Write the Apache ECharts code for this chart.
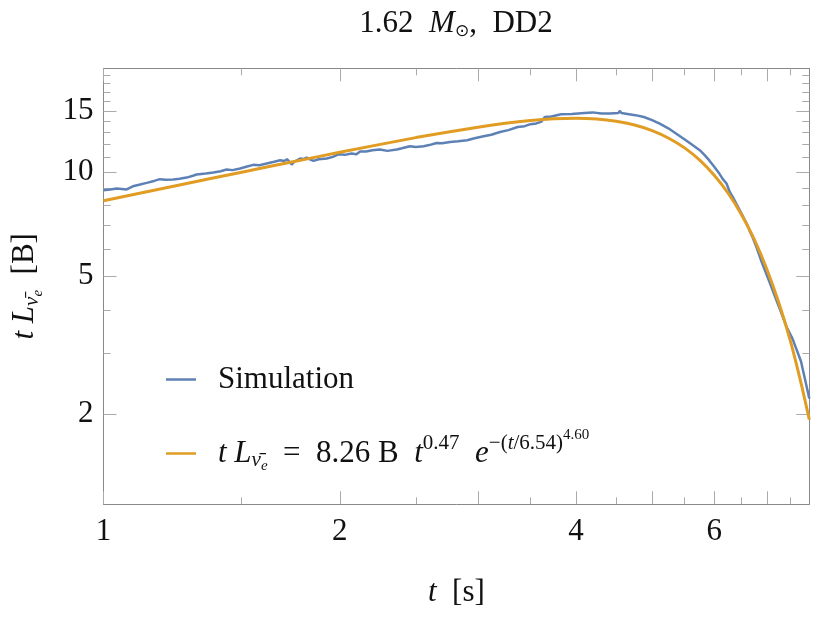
<!DOCTYPE html>
<html>
<head>
<meta charset="utf-8">
<script src="https://cdn.jsdelivr.net/npm/echarts@6/dist/echarts.min.js"></script>
<style>
html, body { margin: 0; padding: 0; background: #fff; }
#chart { width: 814px; height: 623px; }
</style>
</head>
<body>
<div id="chart"></div>
<script>
// simulation: time t [s] and t*L [B]
var simT = [1.00,1.02,1.04,1.07,1.09,1.11,1.135,1.16,1.18,1.20,1.227,1.25,1.276,1.30,1.314,1.35,1.38,1.41,1.435,1.46,
    1.493,1.52,1.552,1.58,1.614,1.65,1.679,1.70,1.713,1.725,1.737,1.75,1.78,1.80,1.815,1.835,1.851,1.88,1.925,1.96,
    1.992,2.03,2.07,2.10,2.11,2.123,2.16,2.20,2.25,2.30,2.364,2.40,2.457,2.50,2.558,2.60,2.657,2.70,2.764,2.83,
    2.906,2.97,3.05,3.12,3.20,3.28,3.37,3.44,3.50,3.56,3.61,3.65,3.72,3.83,3.95,4.10,4.20,4.31,4.42,4.53,
    4.55,4.57,4.65,4.76,4.88,5.00,5.12,5.25,5.38,5.52,5.63,5.75,5.83,5.91,6.00,6.09,6.15,6.22,6.28,6.34,
    6.40,6.50,6.60,6.70,6.80,6.90,7.07,7.25,7.42,7.55,7.74,7.93];
var simV = [8.85,8.90,8.96,8.90,9.09,9.18,9.30,9.42,9.53,9.50,9.51,9.56,9.63,9.75,9.83,9.90,9.96,10.05,10.16,10.12,
    10.23,10.35,10.48,10.45,10.57,10.70,10.81,10.75,10.88,10.70,10.50,10.70,10.93,10.90,11.00,10.85,10.76,10.88,10.93,11.05,
    11.24,11.20,11.30,11.24,11.10,11.45,11.45,11.55,11.60,11.50,11.60,11.70,11.86,11.80,11.86,11.95,12.12,12.10,12.20,12.25,
    12.34,12.50,12.67,12.80,13.04,13.20,13.48,13.55,13.73,13.80,13.94,14.41,14.45,14.67,14.70,14.80,14.85,14.74,14.75,14.80,
    15.00,14.78,14.70,14.58,14.40,14.10,13.75,13.34,12.85,12.34,11.95,11.55,11.20,10.81,10.35,9.89,9.55,9.26,8.75,8.45,
    8.10,7.58,7.09,6.55,6.02,5.48,4.76,4.10,3.57,3.30,2.84,2.22];

// fitted curve
var fitT = [1,1.25,1.5,1.75,2,2.5,3,3.25,3.5,3.75,4,4.25,4.5,4.75,5,5.25,5.5,5.75,6,6.25,6.5,6.75,7,7.25,7.5,7.75,7.93];
var fitV = [8.26,9.17,9.98,10.72,11.39,12.56,13.46,13.81,14.07,14.23,14.28,14.21,14.00,13.66,13.16,12.51,11.73,10.81,9.78,8.68,7.53,6.38,5.25,4.20,3.26,2.43,1.93];

// ticks
var xMajor = [1,2,3,4,5,6,7];
var xMinor = [1.5,2.5,3.5,4.5,5.5,6.5,7.5];
var xLabels = [1,2,4,6];
var yMajor = [2,5,10,15];
var yMinor = [3,4,6,7,8,9,11,12,13,14,16,17,18,19];
var yLabels = [2,5,10,15];

var serif = 'Liberation Serif';
var ink = '#111';
function st(size, italic, pad, family) {
    return {
        fontFamily: family || serif, fontSize: size, color: ink,
        fontStyle: italic ? 'italic' : 'normal', fontWeight: 'normal',
        padding: pad || [0, 0, 0, 0]
    };
}
var rich = {
    rm: st(31, false),
    it: st(31, true),
    sub: st(21, true, [14, 0, 0, 0]),
    ss: st(15, true, [26, 0, 0, 0]),
    subr: st(17, false, [16, 0, 0, 0], 'DejaVu Sans'),
    sup: st(21, false, [0, 0, 20, 0]),
    supit: st(21, true, [0, 0, 20, 0]),
    ssup: st(15, false, [0, 0, 36, 0])
};

function pairs(xs, ys) {
    var out = [];
    for (var i = 0; i < xs.length; i++) out.push([xs[i], ys[i]]);
    return out;
}

function axis(dim, pos, ticks, len, labels, line) {
    var a = {
        type: 'log', logBase: 10,
        min: dim === 'x' ? 1 : 1.1,
        max: dim === 'x' ? 7.93 : 19.9,
        position: pos,
        axisLine: { show: line, onZero: false, lineStyle: { color: '#888', width: 1 } },
        axisTick: { show: true, inside: true, length: len, customValues: ticks, lineStyle: { color: '#aaa', width: 1 } },
        axisLabel: { show: false },
        splitLine: { show: false },
        minorTick: { show: false }
    };
    if (labels) {
        a.axisLabel = {
            show: true, customValues: labels,
            fontFamily: serif, fontSize: 31, color: ink,
            margin: dim === 'x' ? 12 : 10
        };
    }
    return a;
}

var chart = echarts.init(document.getElementById('chart'));

var xAxes = [
    axis('x', 'bottom', xMajor, 13, xLabels, true),
    axis('x', 'bottom', xMinor, 7, null, false),
    axis('x', 'top', xMajor, 13, null, true),
    axis('x', 'top', xMinor, 7, null, false)
];
xAxes[0].name = '{it|t}{rm|  [s]}';
xAxes[0].nameLocation = 'middle';
xAxes[0].nameGap = 73;
xAxes[0].nameTextStyle = { rich: rich };

var yAxes = [
    axis('y', 'left', yMajor, 13, yLabels, true),
    axis('y', 'left', yMinor, 7, null, false),
    axis('y', 'right', yMajor, 13, null, true),
    axis('y', 'right', yMinor, 7, null, false)
];
yAxes[0].name = '{it|t L}{sub|ν\u0304}{ss|e}{rm|  [B]}';
yAxes[0].nameLocation = 'middle';
yAxes[0].nameGap = 58;
yAxes[0].nameTextStyle = { rich: rich };

var fitLabel = '{it|t L}{sub|ν\u0304}{ss|e}{rm|  =  8.26 B  }{it|t}{sup|0.47}{it|  e}{sup|\u2212(}{supit|t}{sup|/6.54)}{ssup|4.60}';

chart.setOption({
    animation: false,
    title: {
        text: '{rm|1.62  }{it|M}{subr|\u2299}{rm|,  DD2}',
        left: 451, top: 2,
        textAlign: 'center',
        textStyle: { rich: rich, fontWeight: 'normal' }
    },
    legend: [{
        data: ['Simulation'],
        left: 166, top: 364, padding: 0,
        icon: 'rect', itemWidth: 30, itemHeight: 2.5,
        textStyle: { rich: rich, padding: [0, 0, 0, 17] },
        formatter: function () { return '{rm|Simulation}'; }
    }, {
        data: ['fit'],
        left: 166, top: 428, padding: 0,
        icon: 'rect', itemWidth: 30, itemHeight: 2.5,
        textStyle: { rich: rich, padding: [0, 0, 0, 17] },
        formatter: function () { return fitLabel; }
    }],
    grid: {
        left: 103.5, right: 4.7, top: 68.3, bottom: 118.7,
        containLabel: false, outerBoundsMode: 'none'
    },
    xAxis: xAxes,
    yAxis: yAxes,
    series: [{
        name: 'Simulation',
        type: 'line',
        data: pairs(simT, simV),
        symbol: 'none',
        lineStyle: { color: '#5E81B5', width: 2.5 },
        itemStyle: { color: '#5E81B5' }
    }, {
        name: 'fit',
        type: 'line',
        data: pairs(fitT, fitV),
        symbol: 'none',
        smooth: 0.2,
        lineStyle: { color: '#E19C24', width: 3 },
        itemStyle: { color: '#E19C24' }
    }]
});
</script>
</body>
</html>
